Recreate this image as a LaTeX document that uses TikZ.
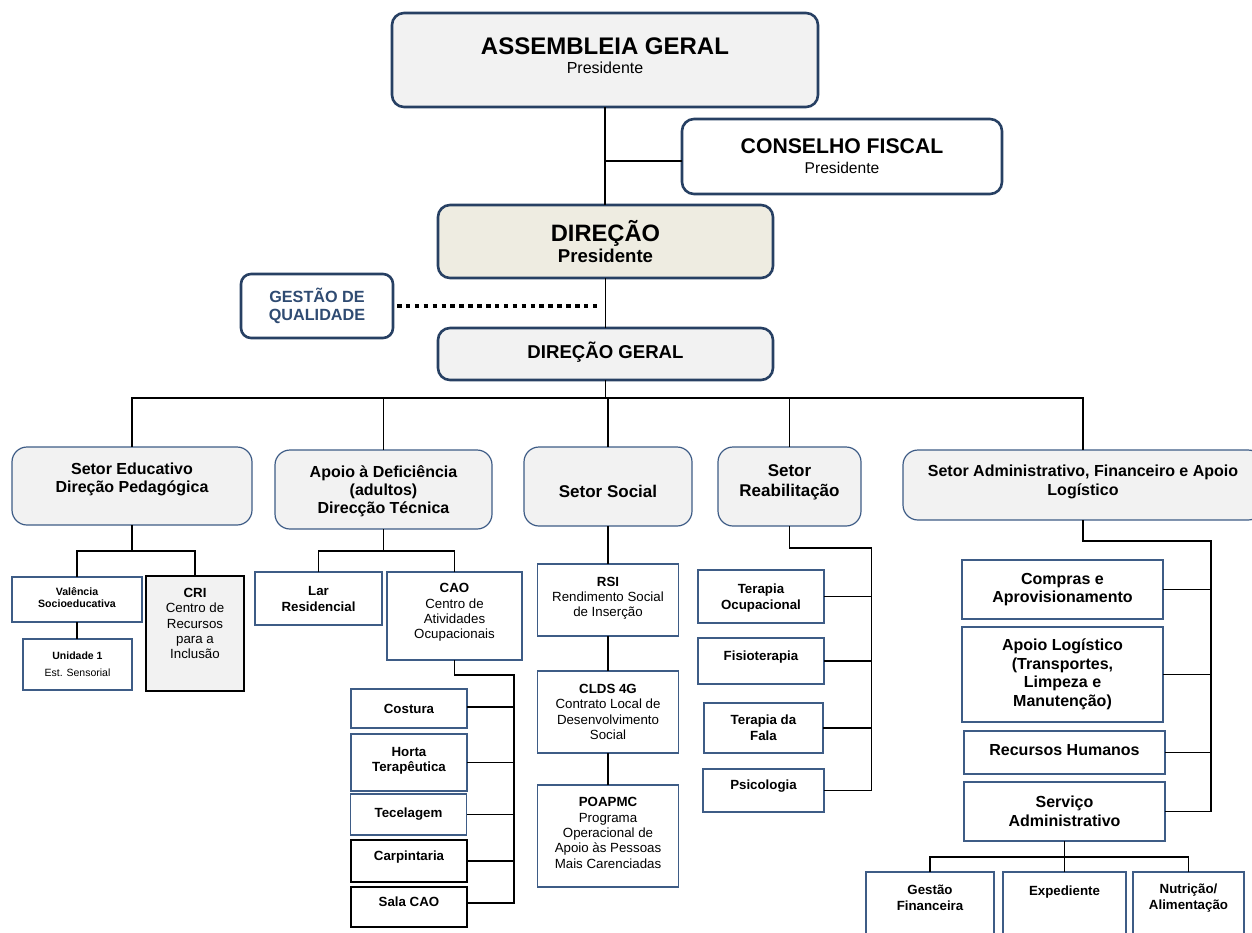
\documentclass[tikz,border=0pt]{standalone}
\usepackage{fontspec}
\setmainfont{Liberation Sans}
\usetikzlibrary{positioning}

\definecolor{navy}{RGB}{39,64,99}
\definecolor{steel}{RGB}{62,92,134}
\definecolor{boxgray}{RGB}{242,242,242}
\definecolor{beige}{RGB}{238,236,225}
\definecolor{qualtext}{RGB}{47,75,114}

\newcommand{\fsz}[2]{\fontsize{#1}{#2}\selectfont}

\tikzset{
  topbox/.style={draw=navy, line width=2.6pt, rounded corners=12pt, fill=boxgray, align=center, inner sep=2pt, outer sep=0pt},
  setorbox/.style={draw=steel, line width=1.2pt, rounded corners=15pt, fill=boxgray, align=center, inner sep=2pt, outer sep=0pt, font=\bfseries\fsz{16}{18}},
  unitbox/.style={draw=steel, line width=1.2pt, fill=white, align=center, inner sep=2pt, outer sep=0pt, font=\fsz{13.3}{15.3}},
  oficina/.style={unitbox, minimum width=116, font=\bfseries\fsz{13.3}{15}},
  terapia/.style={unitbox, font=\bfseries\fsz{13.3}{16}},
  servico/.style={unitbox, minimum width=201, font=\bfseries\fsz{16}{18.5}},
  link/.style={line width=1.4pt},
  qualdots/.style={line width=3.6pt, dash pattern=on 4.5pt off 4.4pt},
}

\begin{document}
\begin{tikzpicture}[x=1pt,y=-1pt]
\useasboundingbox (0,0) rectangle (1252,932);

% orgaos sociais
\node[topbox, minimum width=426, minimum height=94, text depth=9pt, font=\fsz{16}{18.5}] (ag) at (605,60) {{\bfseries\fsz{24}{26}ASSEMBLEIA GERAL}\\Presidente};
\node[topbox, fill=white, minimum width=320, minimum height=75, font=\fsz{15.6}{20}] (cf) at (842,156.5) {{\bfseries\fsz{21.2}{24}CONSELHO FISCAL}\\Presidente};
\node[topbox, fill=beige, minimum width=335, minimum height=73, font=\bfseries\fsz{18.6}{21}] (dir) at (605.5,241.5) {{\fsz{23.7}{26}DIREÇÃO}\\Presidente};
\node[topbox, fill=white, rounded corners=10pt, minimum width=152, minimum height=64, text=qualtext, font=\bfseries\fsz{16.2}{18}] (gq) at (317,306) {GESTÃO DE\\QUALIDADE};
\node[topbox, minimum width=335, minimum height=52, text depth=8.5pt, font=\bfseries\fsz{18.6}{21}] (dg) at (605.5,354) {DIREÇÃO GERAL};

% setores
\node[setorbox, minimum width=240, minimum height=78, text depth=16pt] (se) at (132,486) {Setor Educativo\\Direção Pedagógica};
\node[setorbox, minimum width=217, minimum height=79, text depth=0pt] (ad) at (383.5,489.5) {Apoio à Deficiência\\(adultos)\\Direcção Técnica};
\node[setorbox, minimum width=168, minimum height=79, text height=21pt, text depth=0pt, font=\bfseries\fsz{17}{20}] (ss) at (608,486.5) {Setor Social};
\node[setorbox, minimum width=143, minimum height=79, text depth=11pt, font=\bfseries\fsz{17}{20}] (sr) at (789.5,486.5) {Setor\\Reabilitação};
\node[setorbox, minimum width=360, minimum height=70, text depth=9pt, font=\bfseries\fsz{16}{19}] (sa) at (1083,485) {Setor Administrativo, Financeiro e Apoio\\Logístico};

% setor educativo
\node[unitbox, minimum width=130, minimum height=45, text depth=3.5pt, font=\bfseries\fsz{10.6}{11.5}] (vs) at (77,599.5) {Valência\\Socioeducativa};
\node[unitbox, minimum width=109, minimum height=51, font=\fsz{10.5}{17}] (un) at (77.5,664.5) {\textbf{Unidade 1}\\Est. Sensorial};
\node[unitbox, draw=black, fill=boxgray, minimum width=98, minimum height=115, text depth=20pt] (cri) at (195,633.5) {\textbf{CRI}\\Centro de\\Recursos\\para a\\Inclusão};

% apoio a deficiencia
\node[unitbox, minimum width=127, minimum height=53, font=\bfseries\fsz{13.3}{16}] (lar) at (318.5,598.5) {Lar\\Residencial};
\node[unitbox, minimum width=135, minimum height=88, text depth=9.5pt] (cao) at (454.5,616) {\textbf{CAO}\\Centro de\\Atividades\\Ocupacionais};
\node[oficina, minimum height=39] (cost) at (409,708.5) {Costura};
\node[oficina, minimum height=57, text depth=5.5pt] (horta) at (409,762.5) {Horta\\Terapêutica};
\node[oficina, minimum height=41] (tece) at (408.5,814.5) {Tecelagem};
\node[oficina, draw=black, minimum height=42, text depth=11.5pt] (carp) at (409,861) {Carpintaria};
\node[oficina, draw=black, minimum height=40, text depth=11.5pt] (sala) at (409,907) {Sala CAO};

% setor social
\node[unitbox, minimum width=141, minimum height=72, text depth=6pt] (rsi) at (608,600) {\textbf{RSI}\\Rendimento Social\\de Inserção};
\node[unitbox, minimum width=141, minimum height=82] (clds) at (608,712) {\textbf{CLDS 4G}\\Contrato Local de\\Desenvolvimento\\Social};
\node[unitbox, minimum width=141, minimum height=102, text depth=6.5pt] (poa) at (608,836) {\textbf{POAPMC}\\Programa\\Operacional de\\Apoio às Pessoas\\Mais Carenciadas};

% reabilitacao
\node[terapia, minimum width=126, minimum height=53, text depth=0pt] (terocup) at (761,596.5) {Terapia\\Ocupacional};
\node[terapia, minimum width=126, minimum height=46, text depth=11.5pt] (fis) at (761,661) {Fisioterapia};
\node[terapia, minimum width=119, minimum height=50] (tf) at (763.5,728) {Terapia da\\Fala};
\node[terapia, minimum width=121, minimum height=43, text depth=12.5pt] (psi) at (763.5,790.5) {Psicologia};

% administrativo
\node[servico, minimum height=59] (comp) at (1062.5,589.5) {Compras e\\Aprovisionamento};
\node[servico, minimum height=95] (logi) at (1062.5,674.5) {Apoio Logístico\\(Transportes,\\Limpeza e\\Manutenção)};
\node[servico, minimum height=43, text depth=4.5pt] (rh) at (1064.5,752.5) {Recursos Humanos};
\node[servico, minimum height=59] (sadm) at (1064.5,811.5) {Serviço\\Administrativo};
\node[terapia, minimum width=128, minimum height=78, text depth=26pt] (gfin) at (930,911) {Gestão\\Financeira};
\node[terapia, minimum width=123, minimum height=78, text depth=41.5pt] (exped) at (1064.5,911) {Expediente};
\node[terapia, minimum width=111, minimum height=78, text depth=29.5pt] (nutr) at (1188.5,911) {Nutrição/\\Alimentação};

% ligacoes
\draw[link] (ag.south) -- (ag.south |- dir.north);
\draw[link] ([yshift=-4.5pt]cf.west) -| (ag.south);
\draw[link] (dir.south) -- (dg.north);
\draw[qualdots] ([xshift=4pt]gq.east) -- ([xshift=-6pt]gq.east -| dir.south);

\draw[link] (dg.south) -- ++(0,18) coordinate (bus);
\draw[link] (bus) -| (se.north);
\draw[link] (bus) -| (ad.north);
\draw[link] (bus) -| (ss.north);
\draw[link] (bus) -| (sr.north);
\draw[link] (bus) -| (sa.north);

\draw[link] (se.south) -- ++(0,26) coordinate (seb);
\draw[link] (seb) -| (vs.north);
\draw[link] (seb) -| (cri.north);
\draw[link] (vs.south) -- (vs.south |- un.north);

\draw[link] (ad.south) -- ++(0,22) coordinate (adb);
\draw[link] (adb) -| (lar.north);
\draw[link] (adb) -| (cao.north);
\draw[link] (cao.south) -- ++(0,15) -- ++(59.5,0) coordinate (caobus) |- ([yshift=4pt]sala.east);
\draw[link] ([yshift=1.5pt]cost.east) -- ([yshift=1.5pt]cost.east -| caobus);
\draw[link] (horta.east) -- (horta.east -| caobus);
\draw[link] (tece.east) -- (tece.east -| caobus);
\draw[link] (carp.east) -- (carp.east -| caobus);

\draw[link] (ss.south) -- (rsi.north);
\draw[link] (rsi.south) -- (clds.north);
\draw[link] (clds.south) -- (poa.north);

\draw[link] (sr.south) -- ++(0,22) -- ++(82,0) coordinate (srbus) |- (psi.east);
\draw[link] (terocup.east) -- (terocup.east -| srbus);
\draw[link] (fis.east) -- (fis.east -| srbus);
\draw[link] (tf.east) -- (tf.east -| srbus);

\draw[link] (sa.south) -- ++(0,21) -- ++(128,0) coordinate (sabus) |- (sadm.east);
\draw[link] (comp.east) -- (comp.east -| sabus);
\draw[link] (logi.east) -- (logi.east -| sabus);
\draw[link] (rh.east) -- (rh.east -| sabus);

\draw[link] (sadm.south) -- ++(0,16) coordinate (sadmb);
\draw[link] (sadmb) -| (gfin.north);
\draw[link] (sadmb) -| (exped.north);
\draw[link] (sadmb) -| (nutr.north);
\end{tikzpicture}
\end{document}
